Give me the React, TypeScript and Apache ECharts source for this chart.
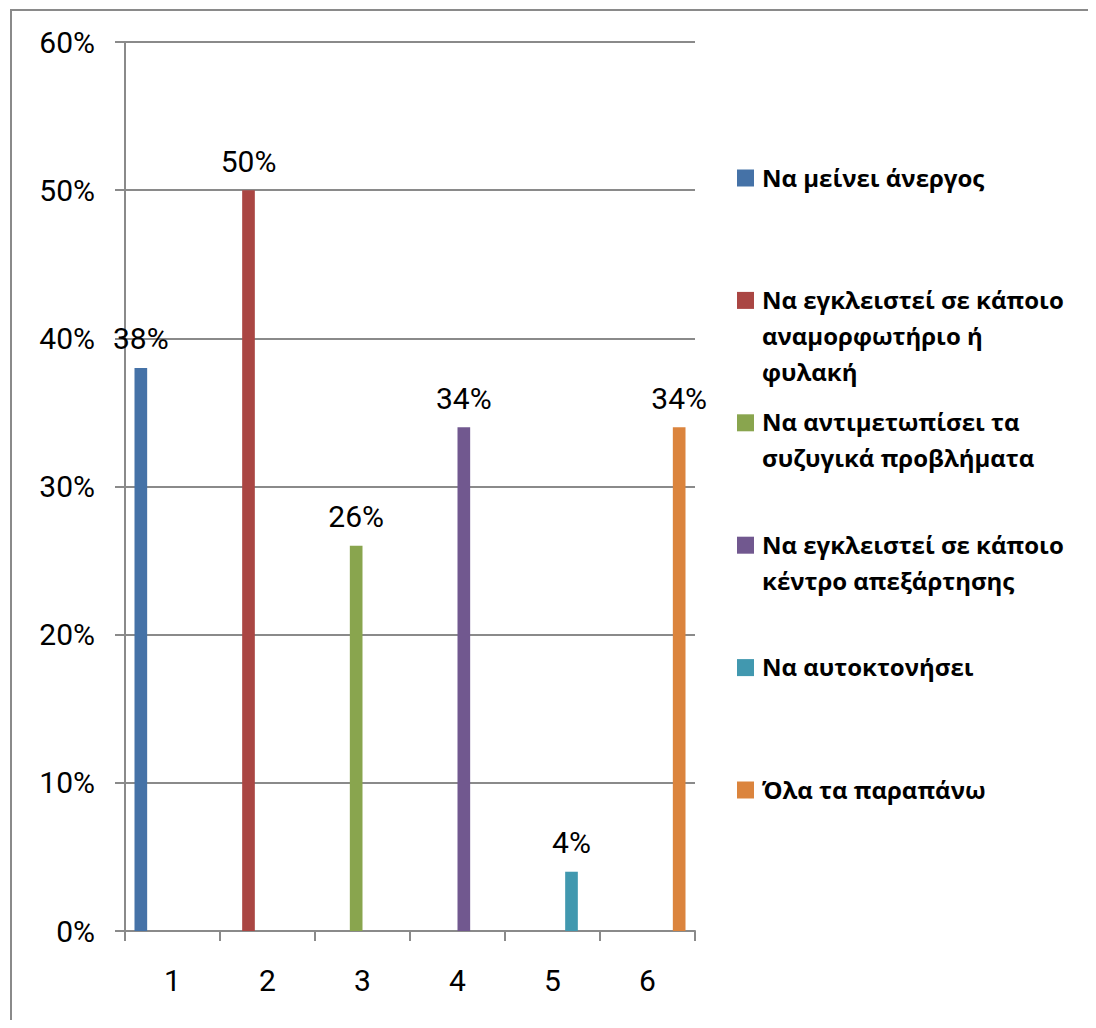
import React, { useEffect, useRef } from "react";
import * as echarts from "echarts";

const categories = ["1", "2", "3", "4", "5", "6"];
const legendLabels = [
  "Να μείνει άνεργος",
  "Να εγκλειστεί σε κάποιο\nαναμορφωτήριο ή\nφυλακή",
  "Να αντιμετωπίσει τα\nσυζυγικά προβλήματα",
  "Να εγκλειστεί σε κάποιο\nκέντρο απεξάρτησης",
  "Να αυτοκτονήσει",
  "Όλα τα παραπάνω",
];
const seriesNames = legendLabels.map((s) => s.replace(/\n/g, " "));
const values = [38, 50, 26, 34, 4, 34];
const colors = ["#4572A7", "#AA4643", "#89A54E", "#71588F", "#4198AF", "#DB843D"];
const yMin = 0;
const yMax = 60;
const yInterval = 10;

const FONT = "Roboto, 'Open Sans', sans-serif";
const LEGEND_FONT = "'Open Sans', 'Noto Sans', sans-serif";
const GRAY = "#8a8a8a";

export default function App() {
  const ref = useRef<HTMLDivElement>(null);
  useEffect(() => {
    if (!ref.current) return;
    const chart = echarts.init(ref.current, null, { renderer: "svg" });

    const series = seriesNames.map((name, i) => ({
      name,
      type: "bar",
      barGap: "0%",
      barCategoryGap: "20%",
      itemStyle: { color: colors[i] },
      label: {
        show: true,
        position: "top",
        distance: 14,
        formatter: "{c}%",
        fontFamily: FONT,
        fontSize: 30,
        color: "#000",
      },
      data: categories.map((_, j) => (j === i ? values[i] : "-")),
    }));

    const legendTop = 170;
    const legendStep = 122.4;
    const graphic: any[] = [
      {
        type: "rect",
        shape: { x: 3, y: 2, width: 1078, height: 1040 },
        style: { fill: "none", stroke: GRAY, lineWidth: 2 },
        silent: true,
        z: 0,
      },
    ];
    legendLabels.forEach((txt, i) => {
      const cy = legendTop + legendStep * i;
      graphic.push({
        type: "rect",
        shape: { x: 729, y: cy - 8.5, width: 17, height: 17 },
        style: { fill: colors[i] },
      });
      graphic.push({
        type: "text",
        x: 754,
        y: cy - 19,
        style: {
          text: txt,
          font: `bold 24px ${LEGEND_FONT}`,
          fill: "#000",
          lineHeight: 36,
          verticalAlign: "top",
          align: "left",
        },
      });
    });

    chart.setOption({
      animation: false,
      backgroundColor: "#fff",
      grid: { left: 117, right: 393, top: 34, bottom: 89, containLabel: false },
      xAxis: {
        type: "category",
        data: categories,
        axisLine: { lineStyle: { color: GRAY, width: 2 } },
        axisTick: { show: true, length: 10, lineStyle: { color: GRAY, width: 2 } },
        axisLabel: { margin: 34, fontFamily: FONT, fontSize: 30, color: "#000" },
      },
      yAxis: {
        type: "value",
        min: yMin,
        max: yMax,
        interval: yInterval,
        axisLine: { show: true, lineStyle: { color: GRAY, width: 2 } },
        axisTick: { show: true, length: 10, lineStyle: { color: GRAY, width: 2 } },
        splitLine: { show: true, lineStyle: { color: GRAY, width: 2 } },
        axisLabel: {
          margin: 30,
          formatter: "{value}%",
          fontFamily: FONT,
          fontSize: 30,
          color: "#000",
        },
      },
      series,
      graphic,
    });
    return () => chart.dispose();
  }, []);
  return <div ref={ref} style={{ width: 1080, height: 1012 }} />;
}
